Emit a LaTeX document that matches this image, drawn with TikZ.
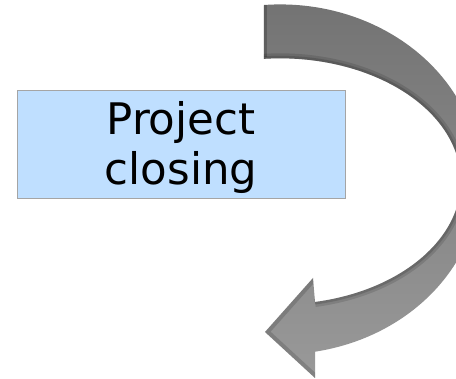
\documentclass[tikz,border=0pt]{standalone}
\usepackage{fontspec}
\setmainfont{DejaVu Sans}
\definecolor{boxblue}{RGB}{191,223,255}
\definecolor{boxline}{RGB}{165,165,165}
\tikzset{
  labelbox/.style={draw=boxline, line width=0.8pt, fill=boxblue, minimum width=328pt, minimum height=108pt, inner sep=0pt},
  labeltext/.style={inner sep=0pt, align=center, font=\fontsize{43.5}{50}\selectfont},
}
\begin{document}
\begin{tikzpicture}[x=1pt,y=1pt]
\useasboundingbox (0,0) rectangle (456,379);
\begin{scope}
\clip (0,0) rectangle (456,379);
\def\arrowpath{(264,374) arc[start angle=94.6, end angle=-79.9, x radius=200, y radius=175]
  -- (315,1) -- (265,47) -- (313,101) -- (315,77)
  arc[start angle=-78.8, end angle=95.1, x radius=181, y radius=123] -- cycle}
\shade[top color=black!55, bottom color=black!40] \arrowpath;
\begin{scope}
\clip \arrowpath;
\draw[black, opacity=0.12, line width=10pt] (315,77) arc[start angle=-78.8, end angle=95.1, x radius=181, y radius=123];
\draw[black, opacity=0.15, line width=5pt] (315,77) arc[start angle=-78.8, end angle=95.1, x radius=181, y radius=123];
\draw[black, opacity=0.2, line width=6pt] (264,374) -- (264,322);
\draw[black, opacity=0.15, line width=8pt] (315,1) -- (265,47) -- (313,101);
\end{scope}
\end{scope}
\node[labelbox] (box) at (181,235) {};
\node[labeltext] (label) at ([yshift=-4pt]box.center) {Project\\closing};
\end{tikzpicture}
\end{document}
